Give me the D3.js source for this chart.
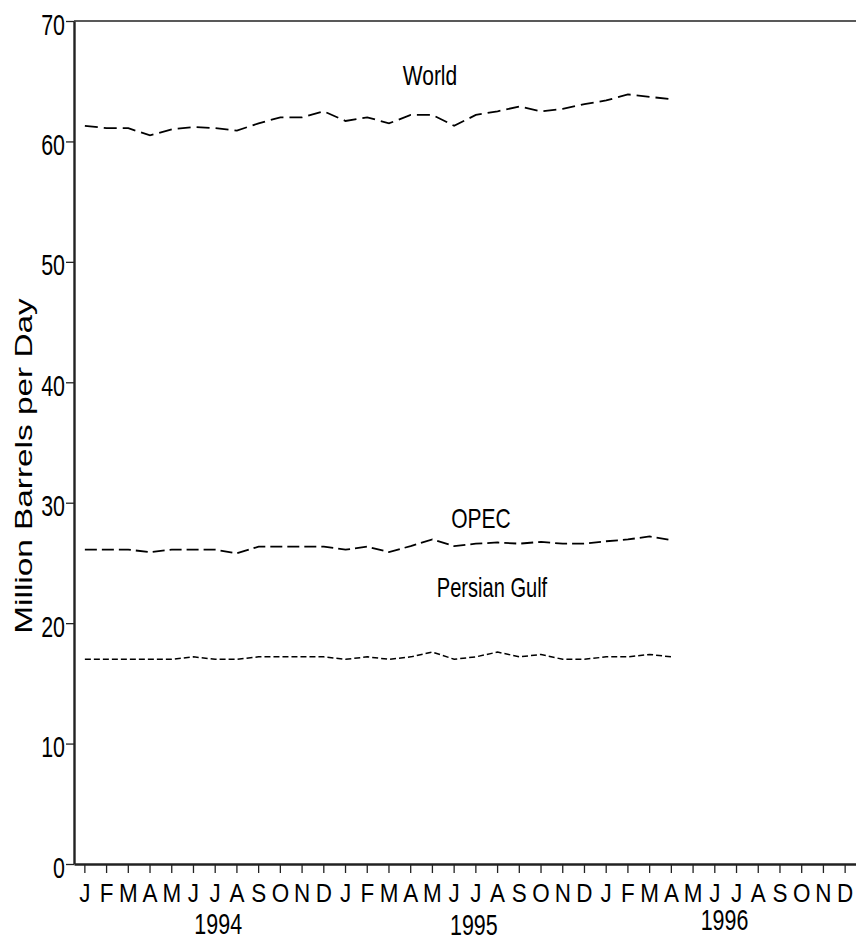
<!DOCTYPE html>
<html>
<head>
<meta charset="utf-8">
<script src="https://cdn.jsdelivr.net/npm/d3@7"></script>
<style>
  html, body { margin: 0; padding: 0; background: #fff; }
  svg { display: block; font-family: "Liberation Sans", Arial, sans-serif; }
</style>
</head>
<body>
<div id="chart"></div>
<script>
// month tick labels, Jan 1994 .. Dec 1996
const monthLetters = ["J", "F", "M", "A", "M", "J", "J", "A", "S", "O", "N", "D"];
const months = [].concat(monthLetters, monthLetters, monthLetters);
const years = ["1994", "1995", "1996"];
const yTicks = [0, 10, 20, 30, 40, 50, 60, 70];

// Jan 1994 .. Apr 1996, million barrels per day
const world = [61.3, 61.1, 61.1, 60.5, 61.0, 61.2, 61.1, 60.9, 61.5, 62.0, 62.0, 62.5,
  61.7, 62.0, 61.5, 62.2, 62.2, 61.3, 62.2, 62.5, 62.9, 62.5, 62.7, 63.1,
  63.4, 63.9, 63.7, 63.5];
const opec = [26.1, 26.1, 26.1, 25.9, 26.1, 26.1, 26.1, 25.8, 26.35, 26.35, 26.35, 26.35,
  26.1, 26.35, 25.9, 26.4, 26.95, 26.4, 26.6, 26.7, 26.6, 26.75, 26.6, 26.6,
  26.8, 26.95, 27.2, 26.9];
const gulf = [17.0, 17.0, 17.0, 17.0, 17.0, 17.2, 17.0, 17.0, 17.2, 17.2, 17.2, 17.2,
  17.0, 17.2, 17.0, 17.2, 17.6, 17.0, 17.2, 17.6, 17.2, 17.4, 17.0, 17.0,
  17.2, 17.2, 17.4, 17.2];

(function () {
  const W = 856, H = 938;
  const left = 74, right = 856, top = 21, bottom = 864;

  const svg = d3.select("#chart").append("svg")
    .attr("width", W)
    .attr("height", H);

  const x = d3.scaleBand()
    .domain(d3.range(months.length))
    .range([left, right]);
  const y = d3.scaleLinear()
    .domain([0, 70])
    .range([bottom, top]);
  const cx = i => x(i) + x.bandwidth() / 2;

  // y axis
  const gy = svg.append("g")
    .attr("transform", `translate(${left},0)`)
    .call(d3.axisLeft(y).tickValues(yTicks).tickSize(8).tickSizeOuter(0).tickFormat(d3.format("d")));
  gy.select(".domain").attr("stroke", "#222").attr("stroke-width", 2.4);
  gy.selectAll(".tick line").attr("stroke", "#222").attr("stroke-width", 1.3);
  gy.selectAll(".tick text")
    .attr("x", null).attr("dy", null).attr("y", null)
    .attr("transform", "translate(-9,13) scale(0.73,1)")
    .attr("font-family", "Liberation Sans, Arial, sans-serif")
    .attr("font-size", 29.3)
    .attr("fill", "#000")
    .attr("text-anchor", "end");

  // x axis
  const gx = svg.append("g")
    .attr("transform", `translate(0,${bottom})`)
    .call(d3.axisBottom(x).tickSize(9).tickSizeOuter(0).tickFormat(i => months[i]));
  gx.select(".domain").attr("stroke", "#222").attr("stroke-width", 2.4);
  gx.selectAll(".tick line").attr("stroke", "#222").attr("stroke-width", 1.3);
  gx.selectAll(".tick text")
    .attr("dy", null).attr("y", null)
    .attr("transform", "translate(0,38) scale(0.88,1)")
    .attr("font-family", "Liberation Sans, Arial, sans-serif")
    .attr("font-size", 25.5)
    .attr("fill", "#000");

  // top frame line
  svg.append("line")
    .attr("x1", left).attr("x2", right)
    .attr("y1", y(70)).attr("y2", y(70))
    .attr("stroke", "#222").attr("stroke-width", 1.6);

  // year labels under July of each year
  const yearNudge = [[3, 70], [-2, 71], [-12, 66]];
  svg.selectAll("text.year")
    .data(years)
    .join("text")
    .attr("class", "year")
    .attr("text-anchor", "middle")
    .attr("font-size", 29)
    .attr("transform", (d, i) =>
      `translate(${cx(i * 12 + 6) + yearNudge[i][0]},${bottom + yearNudge[i][1]}) scale(0.74,1)`)
    .text(d => d);

  // axis title
  svg.append("text")
    .attr("text-anchor", "middle")
    .attr("font-size", 24)
    .attr("transform", "translate(32,466) rotate(-90) scale(1.39,1)")
    .text("Million Barrels per Day");

  // series
  const line = d3.line()
    .x((d, i) => cx(i))
    .y(d => y(d));

  const series = [
    { data: world, dash: "13,6", width: 1.8 },
    { data: opec, dash: "12,5", width: 1.8 },
    { data: gulf, dash: "6,3", width: 1.5 }
  ];
  svg.selectAll("path.series")
    .data(series)
    .join("path")
    .attr("class", "series")
    .attr("fill", "none")
    .attr("stroke", "#000")
    .attr("stroke-width", d => d.width)
    .attr("stroke-dasharray", d => d.dash)
    .attr("d", d => line(d.data));

  // series labels
  const labels = [
    { text: "World", x: 430, y: 85, size: 28, sx: 0.75 },
    { text: "OPEC", x: 481, y: 528, size: 28, sx: 0.75 },
    { text: "Persian Gulf", x: 492, y: 597, size: 27.5, sx: 0.73 }
  ];
  svg.selectAll("text.lbl")
    .data(labels)
    .join("text")
    .attr("class", "lbl")
    .attr("text-anchor", "middle")
    .attr("font-size", d => d.size)
    .attr("transform", d => `translate(${d.x},${d.y}) scale(${d.sx},1)`)
    .text(d => d.text);
})();
</script>
</body>
</html>
